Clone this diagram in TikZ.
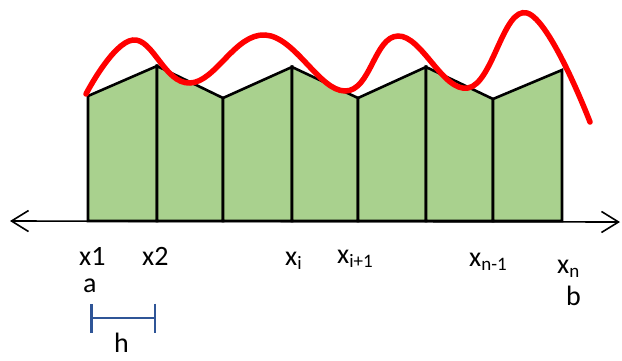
\documentclass[tikz,border=0pt]{standalone}
\usepackage{fontspec}
\setmainfont{Carlito}
\usetikzlibrary{arrows.meta}
\definecolor{verdeclaro}{HTML}{A9D18E}
\definecolor{azulh}{HTML}{2F5597}
\newcommand{\bajo}[1]{\raisebox{-0.16em}{\fontsize{19}{19}\selectfont #1}}

\begin{document}
\begin{tikzpicture}[x=1pt, y=-1pt, font=\fontsize{28}{32}\selectfont]
  \useasboundingbox (0,0) rectangle (622,360);

  % Eje horizontal con flechas en ambos extremos
  \coordinate (izq) at (10,221);
  \coordinate (der) at (620,222);
  \draw[{Straight Barb[length=17pt,width=21pt]}-{Straight Barb[length=17pt,width=21pt]}, line width=1.6pt] (izq) -- (der);

  % Puntos de la particion (base y tope de cada franja)
  \foreach \n/\x/\y in {1/88/96, 2/157/66, 3/223/98, 4/292/67, 5/358/98, 6/426/67, 7/493/99, 8/562/70} {
    \coordinate (b\n) at (\x,221);
    \coordinate (t\n) at (\x,\y);
  }

  % Trapecios de la regla
  \foreach \n [remember=\n as \m (initially 1)] in {2,...,8}
    \draw[fill=verdeclaro, line width=2.6pt] (b\m) -- (t\m) -- (t\n) -- (b\n) -- cycle;

  % Funcion
  \draw[red, line width=5.5pt, line cap=round] plot[smooth, tension=0.7] coordinates
    {(86,94) (133,40) (190,83) (265,35) (345,91) (398,36) (468,88) (527,13) (590,122)};

  % Etiquetas de los puntos
  \node[anchor=base west, inner sep=0] (lx1) at (79,265) {x1};
  \node[anchor=base west, inner sep=0] (lx2) at (142,265) {x2};
  \node[anchor=base west, inner sep=0] (la) at (83,292) {a};
  \node[anchor=base west, inner sep=0] (lxi) at (285,265) {x\bajo{i}};
  \node[anchor=base west, inner sep=0] (lxii) at (337,263) {x\bajo{i+1}};
  \node[anchor=base west, inner sep=0] (lxn1) at (469,266) {x\bajo{n-1}};
  \node[anchor=base west, inner sep=0] (lxn) at (557,273) {x\bajo{n}};
  \node[anchor=base west, inner sep=0] (lb) at (566,305) {b};

  % Ancho h
  \coordinate (h1) at (90,318);
  \coordinate (h2) at (156,318);
  \draw[azulh, line width=2.5pt, {Bar[width=29pt]}-{Bar[width=29pt]}] (h1) -- (h2);
  \node[anchor=base west, inner sep=0] (lh) at (114,352) {h};
\end{tikzpicture}
\end{document}
